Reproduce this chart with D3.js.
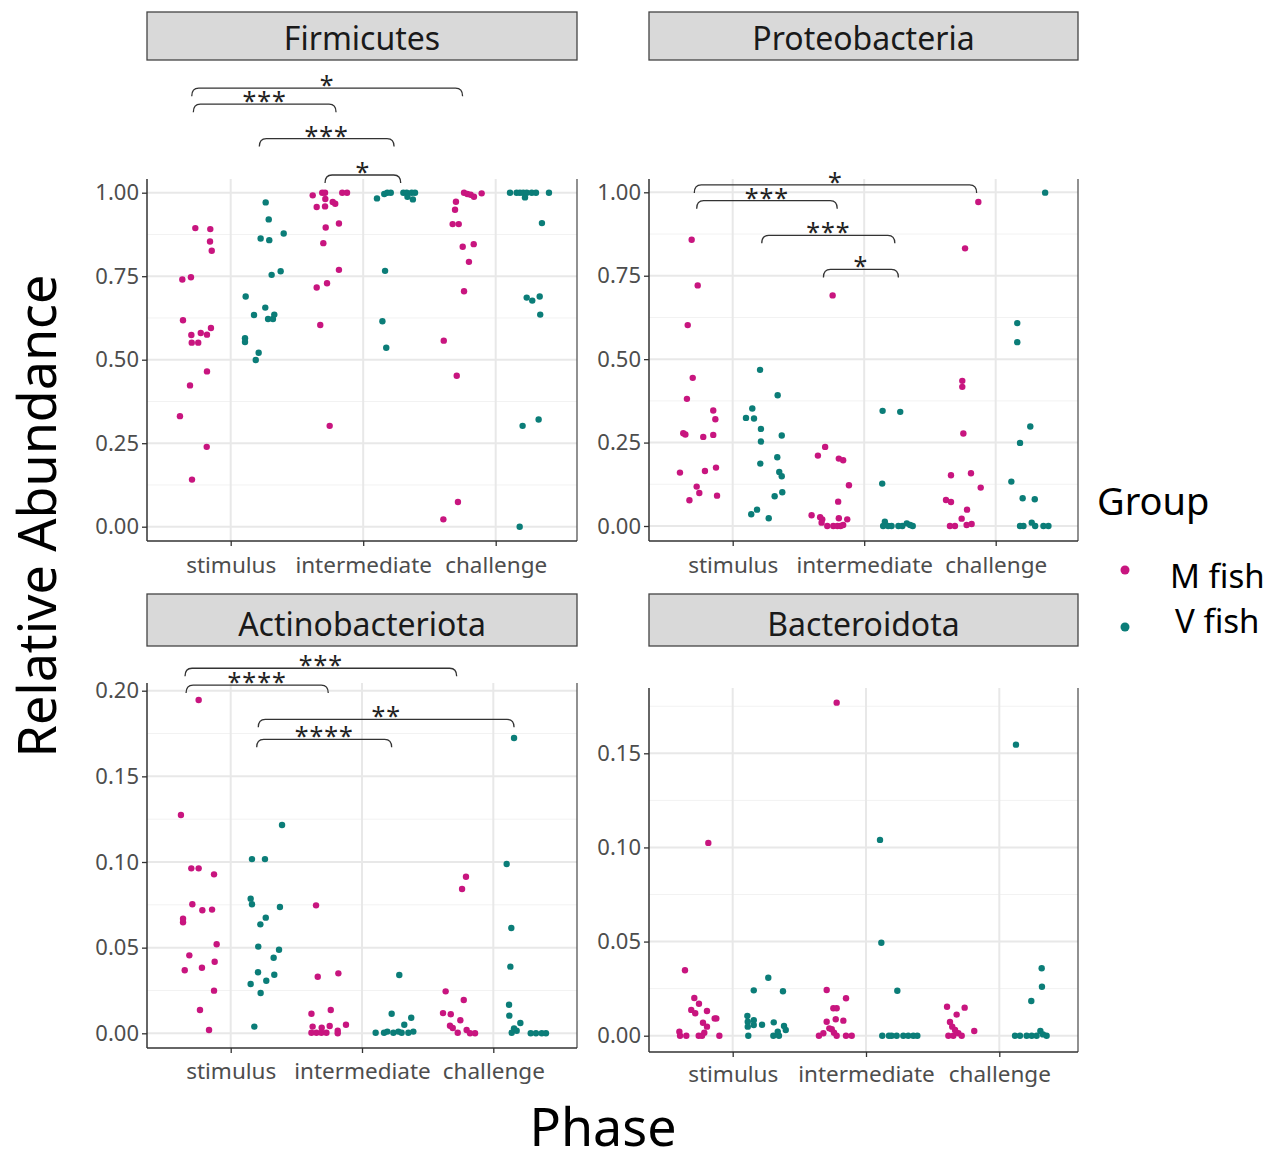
<!DOCTYPE html>
<html>
<head>
<meta charset="utf-8">
<script src="https://cdn.jsdelivr.net/npm/d3@7"></script>
<style>
  body { margin: 0; background: #fff; }
  svg { font-family: "Noto Sans", "Open Sans", sans-serif; }
</style>
</head>
<body>
<script>
// categories
const phases = ["stimulus", "intermediate", "challenge"];
const groups = ["M fish", "V fish"];
const groupColors = ["#c8157f", "#0b7d78"];

// points: [phase position (1 = stimulus, 2 = intermediate, 3 = challenge, jittered), relative abundance]
const firmicutesM = [
  [0.733,0.894],[0.846,0.891],[0.844,0.854],[0.857,0.826],[0.635,0.740],[0.700,0.747],[0.640,0.618],[0.703,0.574],[0.774,0.580],[0.821,0.575],[0.851,0.595],[0.706,0.551],[0.755,0.551],[0.821,0.465],[0.693,0.423],[0.617,0.331],[0.819,0.239],[0.708,0.141],
  [1.619,0.992],[1.691,1.0],[1.712,1.0],[1.714,0.981],[1.770,0.972],[1.789,0.967],[1.649,0.957],[1.712,0.959],[1.842,1.0],[1.878,1.0],[1.717,0.896],[1.817,0.908],[1.699,0.849],[1.817,0.769],[1.649,0.716],[1.727,0.729],[1.676,0.604],[1.747,0.302],
  [2.761,1.0],[2.786,0.996],[2.811,0.994],[2.836,0.988],[2.894,0.998],[2.700,0.973],[2.693,0.949],[2.675,0.906],[2.721,0.906],[2.751,0.838],[2.834,0.846],[2.798,0.793],[2.761,0.705],[2.608,0.557],[2.706,0.452],[2.715,0.074],[2.605,0.022]
];
const firmicutesV = [
  [1.264,0.971],[1.287,0.920],[1.226,0.863],[1.291,0.858],[1.400,0.878],[1.309,0.754],[1.377,0.765],[1.113,0.689],[1.261,0.656],[1.176,0.634],[1.282,0.622],[1.319,0.622],[1.329,0.635],[1.108,0.564],[1.108,0.553],[1.211,0.521],[1.189,0.499],
  [2.104,0.983],[2.159,0.996],[2.182,1.0],[2.208,1.0],[2.303,1.0],[2.328,1.0],[2.366,1.0],[2.391,1.0],[2.334,0.988],[2.375,0.980],[2.165,0.766],[2.145,0.615],[2.174,0.536],
  [3.108,1.0],[3.158,1.0],[3.183,1.0],[3.208,1.0],[3.234,1.0],[3.272,1.0],[3.304,1.0],[3.221,0.986],[3.402,1.0],[3.349,0.909],[3.234,0.686],[3.276,0.677],[3.332,0.689],[3.336,0.635],[3.203,0.302],[3.324,0.321],[3.181,0.0]
];
const proteoM = [
  [0.688,0.858],[0.734,0.721],[0.658,0.602],[0.696,0.444],[0.652,0.381],[0.852,0.346],[0.868,0.320],[0.624,0.278],[0.640,0.274],[0.776,0.267],[0.852,0.273],[0.599,0.160],[0.789,0.165],[0.873,0.175],[0.726,0.118],[0.746,0.099],[0.671,0.077],[0.881,0.091],
  [1.760,0.691],[1.648,0.211],[1.703,0.237],[1.807,0.202],[1.840,0.197],[1.884,0.122],[1.802,0.073],[1.600,0.032],[1.665,0.026],[1.681,0.020],[1.676,0.010],[1.807,0.023],[1.871,0.020],[1.719,0.0],[1.765,0.0],[1.796,0.0],[1.820,0.0],[1.840,0.003],
  [2.868,0.971],[2.767,0.832],[2.746,0.435],[2.746,0.417],[2.754,0.277],[2.660,0.152],[2.812,0.158],[2.886,0.115],[2.622,0.078],[2.660,0.072],[2.782,0.049],[2.741,0.022],[2.652,0.0],[2.690,0.0],[2.779,0.003],[2.817,0.006]
];
const proteoV = [
  [1.208,0.468],[1.342,0.392],[1.101,0.324],[1.149,0.352],[1.162,0.322],[1.215,0.291],[1.215,0.253],[1.373,0.271],[1.210,0.187],[1.339,0.206],[1.354,0.162],[1.373,0.149],[1.377,0.101],[1.319,0.089],[1.141,0.035],[1.185,0.049],[1.274,0.023],
  [2.140,0.345],[2.274,0.342],[2.137,0.127],[2.157,0.013],[2.182,0.0],[2.208,0.0],[2.260,0.0],[2.290,0.0],[2.324,0.008],[2.349,0.003],[2.369,0.0],[2.144,0.0],
  [3.376,0.999],[3.164,0.608],[3.164,0.551],[3.263,0.298],[3.185,0.249],[3.119,0.133],[3.205,0.083],[3.297,0.080],[3.185,0.0],[3.211,0.0],[3.274,0.010],[3.300,0.0],[3.363,0.0],[3.401,0.0]
];
const actinoM = [
  [0.756,0.1946],[0.621,0.1274],[0.700,0.0963],[0.756,0.0963],[0.873,0.0928],[0.708,0.0753],[0.784,0.0718],[0.858,0.0722],[0.637,0.0669],[0.637,0.0648],[0.893,0.0520],[0.685,0.0455],[0.650,0.0368],[0.781,0.0383],[0.878,0.0418],[0.873,0.0249],[0.766,0.0136],[0.835,0.0019],
  [1.650,0.0747],[1.663,0.0330],[1.820,0.0350],[1.615,0.0114],[1.762,0.0136],[1.624,0.0039],[1.693,0.0033],[1.754,0.0043],[1.878,0.0050],[1.615,0.0003],[1.653,0.0003],[1.691,0.0003],[1.729,0.0003],[1.815,0.0015],[1.815,0.0],
  [2.792,0.0914],[2.762,0.0842],[2.637,0.0245],[2.775,0.0194],[2.617,0.0118],[2.676,0.0111],[2.749,0.0076],[2.670,0.0044],[2.691,0.0031],[2.729,0.0003],[2.797,0.0019],[2.823,0.0],[2.861,0.0]
];
const actinoV = [
  [1.391,0.1216],[1.162,0.1017],[1.261,0.1017],[1.152,0.0786],[1.162,0.0753],[1.375,0.0737],[1.267,0.0675],[1.226,0.0636],[1.210,0.0506],[1.368,0.0488],[1.327,0.0441],[1.208,0.0356],[1.332,0.0342],[1.152,0.0288],[1.271,0.0307],[1.228,0.0235],[1.180,0.0039],
  [2.284,0.0340],[2.226,0.0114],[2.375,0.0091],[2.322,0.0050],[2.104,0.0003],[2.168,0.0003],[2.193,0.001],[2.239,0.0003],[2.277,0.001],[2.302,0.0003],[2.353,0.0003],[2.391,0.001],
  [3.158,0.1724],[3.102,0.0988],[3.137,0.0615],[3.130,0.0389],[3.120,0.0167],[3.122,0.0103],[3.206,0.0060],[3.158,0.0029],[3.178,0.0015],[3.140,0.0003],[3.285,0.0],[3.325,0.0],[3.369,0.0],[3.401,0.0]
];
const bacteroM = [
  [0.817,0.1024],[0.642,0.0348],[0.712,0.0200],[0.747,0.0170],[0.689,0.0137],[0.719,0.0119],[0.807,0.0131],[0.777,0.0069],[0.807,0.0048],[0.865,0.0092],[0.877,0.0092],[0.600,0.0021],[0.605,0.0],[0.652,0.0],[0.745,0.0],[0.770,0.0],[0.787,0.0016],[0.900,0.0],
  [1.705,0.0243],[1.705,0.0074],[1.647,0.0],[1.680,0.0013],[1.780,0.1769],[1.755,0.0146],[1.780,0.0146],[1.850,0.0199],[1.773,0.0087],[1.830,0.0080],[1.743,0.0034],[1.760,0.0016],[1.780,0.0],[1.850,0.0],[1.893,0.0],[1.725,0.0039],
  [2.608,0.0154],[2.740,0.0149],[2.680,0.0112],[2.630,0.0073],[2.647,0.0048],[2.812,0.0025],[2.618,0.0],[2.655,0.0],[2.693,0.0013],[2.718,0.0],[2.668,0.0030]
];
const bacteroV = [
  [1.267,0.0308],[1.158,0.0241],[1.377,0.0236],[1.110,0.0105],[1.158,0.0082],[1.158,0.0057],[1.220,0.0058],[1.308,0.0071],[1.113,0.0074],[1.113,0.0048],[1.117,0.0],[1.385,0.0052],[1.398,0.0030],[1.305,0.0],[1.347,0.0],[1.338,0.0021],
  [2.105,0.1040],[2.115,0.0494],[2.235,0.0239],[2.122,0.0],[2.172,0.0],[2.192,0.0],[2.230,0.0],[2.280,0.0],[2.317,0.0],[2.355,0.0],[2.385,0.0],
  [3.125,0.1546],[3.318,0.0358],[3.320,0.0260],[3.240,0.0184],[3.118,0.0],[3.155,0.0],[3.205,0.0],[3.243,0.0],[3.280,0.0],[3.355,0.0],[3.308,0.0025],[3.328,0.0007]
];

// significance brackets: [from, to, height, label]
const firmicutesBrackets = [[0.706,2.75,1.313,"*"],[0.718,1.795,1.265,"***"],[1.216,2.233,1.162,"***"],[1.712,2.283,1.053,"*"]];
const proteoBrackets = [[0.708,2.855,1.022,"*"],[0.726,1.795,0.975,"***"],[1.221,2.233,0.871,"***"],[1.690,2.260,0.769,"*"]];
const actinoBrackets = [[0.652,2.721,0.2131,"***"],[0.660,1.743,0.2033,"****"],[1.210,3.158,0.1833,"**"],[1.198,2.226,0.1716,"****"]];

const yTicksFirm = [0, 0.25, 0.5, 0.75, 1];
const yTicksActino = [0, 0.05, 0.1, 0.15, 0.2];
const yTicksBactero = [0, 0.05, 0.1, 0.15];

// panel layout
const panels = [
  { title: "Firmicutes", series: [firmicutesM, firmicutesV], brackets: firmicutesBrackets, ticks: yTicksFirm,
    left: 147, right: 577, top: 179, bottom: 541, stripTop: 12, stripBottom: 60,
    yTop: 1, yPxTop: 192.7, yPx0: 526.7, c1: 230.7, c3: 495.7, labelY: 573 },
  { title: "Proteobacteria", series: [proteoM, proteoV], brackets: proteoBrackets, ticks: yTicksFirm,
    left: 649, right: 1078, top: 179, bottom: 541, stripTop: 12, stripBottom: 60,
    yTop: 1, yPxTop: 192.3, yPx0: 526, c1: 732.7, c3: 995.7, labelY: 573 },
  { title: "Actinobacteriota", series: [actinoM, actinoV], brackets: actinoBrackets, ticks: yTicksActino,
    left: 147, right: 577, top: 683, bottom: 1048, stripTop: 594, stripBottom: 646,
    yTop: 0.2, yPxTop: 690.7, yPx0: 1033.3, c1: 230.7, c3: 493.3, labelY: 1079 },
  { title: "Bacteroidota", series: [bacteroM, bacteroV], brackets: [], ticks: yTicksBactero,
    left: 649, right: 1078, top: 688, bottom: 1052, stripTop: 594, stripBottom: 646,
    yTop: 0.15, yPxTop: 753.3, yPx0: 1035.7, c1: 732.7, c3: 999.3, labelY: 1082 }
];

const svg = d3.select("body").append("svg")
  .attr("width", 1280)
  .attr("height", 1151);

panels.forEach(p => {
  const x = d3.scaleLinear().domain([1, 3]).range([p.c1, p.c3]);
  const y = d3.scaleLinear().domain([0, p.yTop]).range([p.yPx0, p.yPxTop]);
  const g = svg.append("g");

  // minor grid
  const step = p.ticks[1] - p.ticks[0];
  const minor = p.ticks.map(t => t + step / 2).filter(v => y(v) > p.top);
  g.selectAll(".minor").data(minor).join("line")
    .attr("x1", p.left).attr("x2", p.right)
    .attr("y1", d => y(d)).attr("y2", d => y(d))
    .attr("stroke", "#f2f2f2").attr("stroke-width", 1);

  // major grid
  g.selectAll(".major").data(p.ticks).join("line")
    .attr("x1", p.left).attr("x2", p.right)
    .attr("y1", d => y(d)).attr("y2", d => y(d))
    .attr("stroke", "#e8e8e8").attr("stroke-width", 2);
  g.selectAll(".vgrid").data([1, 2, 3]).join("line")
    .attr("x1", d => x(d)).attr("x2", d => x(d))
    .attr("y1", p.top).attr("y2", p.bottom)
    .attr("stroke", "#e8e8e8").attr("stroke-width", 2);

  // right border
  g.append("line")
    .attr("x1", p.right).attr("x2", p.right)
    .attr("y1", p.top).attr("y2", p.bottom)
    .attr("stroke", "#555").attr("stroke-width", 1.3);

  // axes
  const yAxis = d3.axisLeft(y).tickValues(p.ticks).tickFormat(d3.format(".2f"))
    .tickSize(5).tickPadding(3).tickSizeOuter(0);
  const ya = g.append("g").attr("transform", `translate(${p.left},0)`).call(yAxis);
  ya.select(".domain").attr("d", `M0,${p.top}V${p.bottom}`).attr("stroke", "#333").attr("stroke-width", 1.5);

  const xAxis = d3.axisBottom(x).tickValues([1, 2, 3]).tickFormat((d, i) => phases[i])
    .tickSize(5).tickPadding(4).tickSizeOuter(0);
  const xa = g.append("g").attr("transform", `translate(0,${p.bottom})`).call(xAxis);
  xa.select(".domain").attr("d", `M${p.left},0H${p.right}`).attr("stroke", "#333").attr("stroke-width", 1.5);
  xa.selectAll("text").attr("y", p.labelY - p.bottom).attr("dy", 0);

  [ya, xa].forEach(a => {
    a.selectAll(".tick line").attr("stroke", "#333").attr("stroke-width", 1.3);
    a.selectAll("text").attr("fill", "#4d4d4d").style("font-size", "22px")
      .style("font-family", "'Noto Sans', sans-serif");
  });
  xa.selectAll("text").style("font-size", "22.5px");

  // strip
  g.append("rect")
    .attr("x", p.left).attr("y", p.stripTop)
    .attr("width", p.right - p.left).attr("height", p.stripBottom - p.stripTop)
    .attr("fill", "#d9d9d9").attr("stroke", "#444").attr("stroke-width", 1.3);
  g.append("text")
    .attr("x", (p.left + p.right) / 2).attr("y", p.stripBottom - 10)
    .attr("text-anchor", "middle").attr("fill", "#1a1a1a")
    .style("font-size", "32px").text(p.title);

  // points
  p.series.forEach((s, gi) => {
    g.append("g").selectAll("circle").data(s).join("circle")
      .attr("cx", d => x(d[0])).attr("cy", d => y(d[1]))
      .attr("r", 3.2).attr("fill", groupColors[gi]);
  });

  // brackets
  const tip = 8, r = 7;
  const br = g.append("g");
  p.brackets.forEach(b => {
    const xa1 = x(b[0]), xb1 = x(b[1]), yy = y(b[2]);
    br.append("path")
      .attr("d", `M${xa1},${yy + tip} Q${xa1},${yy} ${xa1 + r},${yy} L${xb1 - r},${yy} Q${xb1},${yy} ${xb1},${yy + tip}`)
      .attr("fill", "none").attr("stroke", "#333").attr("stroke-width", 1.3);
    br.append("text")
      .attr("x", (xa1 + xb1) / 2).attr("y", yy + 6)
      .attr("text-anchor", "middle").attr("fill", "#222")
      .style("font-size", "25px").style("letter-spacing", "1px").text(b[3]);
  });
});

// axis titles
svg.append("text")
  .attr("transform", "translate(56,516) rotate(-90)")
  .attr("text-anchor", "middle").attr("fill", "#000")
  .style("font-size", "52px").text("Relative Abundance");
svg.append("text")
  .attr("x", 603).attr("y", 1146)
  .attr("text-anchor", "middle").attr("fill", "#000")
  .style("font-size", "52px").text("Phase");

// legend
const legend = svg.append("g");
legend.append("text").attr("x", 1097).attr("y", 515)
  .style("font-size", "38px").attr("fill", "#000").text("Group");
const legendY = [570, 627];
const legendTextX = [1170, 1175];
const legendTextY = [588, 633];
groups.forEach((gname, i) => {
  legend.append("circle").attr("cx", 1125).attr("cy", legendY[i]).attr("r", 4.5).attr("fill", groupColors[i]);
  legend.append("text").attr("x", legendTextX[i]).attr("y", legendTextY[i])
    .style("font-size", "33px").attr("fill", "#000").text(gname);
});
</script>
</body>
</html>
